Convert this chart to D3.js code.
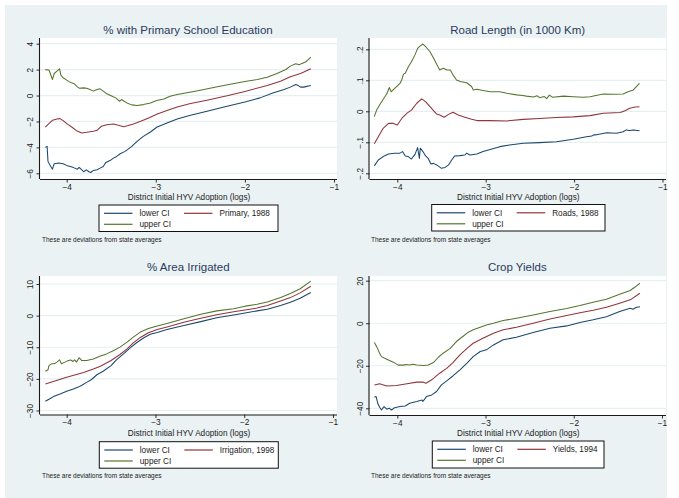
<!DOCTYPE html>
<html>
<head>
<meta charset="utf-8">
<script src="https://cdn.jsdelivr.net/npm/d3@7"></script>
<style>
  body { margin: 0; background: #ffffff; }
  svg { display: block; }
  text { font-family: "Liberation Sans", Arial, Helvetica, sans-serif; }
</style>
</head>
<body>
<svg id="chart" width="679" height="498"></svg>
<script>
// ---- data: local-mean estimates with confidence bands, by district HYV adoption (logs) ----
const xTicks = [-4, -3, -2, -1];
const bandNames = ["lower CI", "upper CI"];

// % with primary school education, 1988
const primaryUpper = [[-4.24,2.0],[-4.2,1.97],[-4.19,1.82],[-4.16,1.24],[-4.14,1.7],[-4.11,1.88],[-4.08,2.06],[-4.064,1.55],[-4.04,1.37],[-4.0,1.19],[-3.95,0.98],[-3.92,0.93],[-3.88,0.67],[-3.86,0.57],[-3.81,0.59],[-3.775,0.57],[-3.74,0.46],[-3.70,0.34],[-3.66,0.46],[-3.625,0.52],[-3.59,0.34],[-3.55,0.13],[-3.49,-0.05],[-3.45,-0.18],[-3.41,-0.44],[-3.38,-0.31],[-3.355,-0.44],[-3.325,-0.57],[-3.27,-0.72],[-3.21,-0.77],[-3.14,-0.70],[-3.06,-0.57],[-2.99,-0.39],[-2.91,-0.26],[-2.84,-0.05],[-2.76,0.08],[-2.65,0.21],[-2.5,0.41],[-2.31,0.67],[-2.12,0.93],[-2.0,1.08],[-1.86,1.24],[-1.75,1.42],[-1.64,1.70],[-1.54,2.01],[-1.49,2.27],[-1.43,2.45],[-1.39,2.37],[-1.36,2.48],[-1.32,2.58],[-1.26,2.97]];
const primaryEst = [[-4.24,-2.43],[-4.2,-2.17],[-4.16,-1.91],[-4.11,-1.81],[-4.075,-1.78],[-4.04,-1.94],[-4.0,-2.17],[-3.94,-2.45],[-3.89,-2.71],[-3.83,-2.89],[-3.775,-2.84],[-3.7,-2.76],[-3.66,-2.68],[-3.61,-2.37],[-3.55,-2.25],[-3.475,-2.19],[-3.42,-2.30],[-3.36,-2.40],[-3.31,-2.32],[-3.25,-2.19],[-3.17,-1.99],[-3.08,-1.73],[-2.99,-1.45],[-2.875,-1.16],[-2.76,-0.88],[-2.61,-0.62],[-2.425,-0.36],[-2.2,-0.02],[-2.0,0.32],[-1.75,0.77],[-1.6,1.11],[-1.49,1.45],[-1.375,1.70],[-1.26,2.06]];
const primaryLower = [[-4.24,-4.0],[-4.22,-3.92],[-4.21,-5.08],[-4.19,-5.34],[-4.16,-5.68],[-4.14,-5.26],[-4.09,-5.21],[-4.04,-5.26],[-4.0,-5.39],[-3.94,-5.52],[-3.91,-5.6],[-3.88,-5.68],[-3.86,-5.55],[-3.83,-5.73],[-3.81,-5.88],[-3.78,-5.73],[-3.75,-5.88],[-3.73,-5.94],[-3.7,-5.78],[-3.66,-5.73],[-3.625,-5.60],[-3.59,-5.47],[-3.56,-5.16],[-3.51,-5.0],[-3.475,-4.83],[-3.44,-4.7],[-3.4,-4.49],[-3.345,-4.31],[-3.31,-4.13],[-3.27,-3.92],[-3.21,-3.54],[-3.14,-3.15],[-3.06,-2.81],[-2.99,-2.45],[-2.875,-2.12],[-2.76,-1.81],[-2.61,-1.52],[-2.425,-1.21],[-2.2,-0.82],[-2.0,-0.5],[-1.83,-0.18],[-1.68,0.21],[-1.56,0.46],[-1.49,0.65],[-1.43,0.85],[-1.40,0.77],[-1.375,0.65],[-1.34,0.65],[-1.26,0.77]];

// road length (in 1000 km), 1988
const roadsUpper = [[-4.26,-0.017],[-4.234,0.004],[-4.20,0.020],[-4.16,0.039],[-4.12,0.056],[-4.09,0.077],[-4.07,0.063],[-4.03,0.074],[-3.97,0.090],[-3.95,0.101],[-3.93,0.120],[-3.91,0.123],[-3.875,0.144],[-3.84,0.160],[-3.80,0.182],[-3.77,0.203],[-3.74,0.211],[-3.71,0.217],[-3.68,0.209],[-3.63,0.192],[-3.58,0.166],[-3.55,0.149],[-3.52,0.133],[-3.48,0.139],[-3.44,0.133],[-3.40,0.133],[-3.375,0.120],[-3.33,0.101],[-3.29,0.096],[-3.215,0.092],[-3.16,0.080],[-3.14,0.069],[-3.10,0.071],[-3.03,0.067],[-2.95,0.063],[-2.84,0.063],[-2.76,0.058],[-2.65,0.053],[-2.58,0.051],[-2.54,0.049],[-2.46,0.046],[-2.42,0.050],[-2.39,0.044],[-2.34,0.048],[-2.31,0.041],[-2.28,0.052],[-2.24,0.045],[-2.12,0.049],[-2.01,0.047],[-1.90,0.045],[-1.82,0.047],[-1.67,0.056],[-1.56,0.055],[-1.445,0.056],[-1.39,0.063],[-1.33,0.069],[-1.26,0.090]];
const roadsEst = [[-4.26,-0.105],[-4.215,-0.082],[-4.16,-0.055],[-4.10,-0.039],[-4.045,-0.039],[-4.0,-0.044],[-3.95,-0.023],[-3.89,-0.006],[-3.84,0.004],[-3.78,0.026],[-3.725,0.040],[-3.68,0.031],[-3.63,0.015],[-3.555,-0.009],[-3.52,-0.012],[-3.47,-0.019],[-3.42,-0.010],[-3.37,-0.003],[-3.31,-0.012],[-3.235,-0.019],[-3.16,-0.026],[-3.10,-0.030],[-2.95,-0.030],[-2.76,-0.031],[-2.575,-0.026],[-2.39,-0.023],[-2.20,-0.020],[-2.01,-0.018],[-1.82,-0.014],[-1.67,-0.006],[-1.48,-0.004],[-1.43,0.001],[-1.37,0.010],[-1.31,0.014],[-1.26,0.015]];
const roadsLower = [[-4.26,-0.176],[-4.215,-0.157],[-4.16,-0.146],[-4.10,-0.138],[-4.03,-0.135],[-3.97,-0.135],[-3.94,-0.130],[-3.91,-0.144],[-3.875,-0.146],[-3.84,-0.154],[-3.80,-0.139],[-3.77,-0.117],[-3.75,-0.152],[-3.74,-0.119],[-3.71,-0.130],[-3.68,-0.144],[-3.65,-0.152],[-3.62,-0.170],[-3.59,-0.168],[-3.555,-0.173],[-3.50,-0.184],[-3.46,-0.181],[-3.42,-0.173],[-3.385,-0.157],[-3.35,-0.144],[-3.29,-0.143],[-3.235,-0.141],[-3.215,-0.135],[-3.18,-0.141],[-3.10,-0.138],[-3.03,-0.130],[-2.95,-0.123],[-2.84,-0.114],[-2.73,-0.109],[-2.575,-0.103],[-2.39,-0.101],[-2.20,-0.098],[-2.01,-0.090],[-1.86,-0.082],[-1.80,-0.080],[-1.78,-0.076],[-1.75,-0.076],[-1.63,-0.069],[-1.52,-0.071],[-1.445,-0.066],[-1.41,-0.060],[-1.37,-0.062],[-1.33,-0.060],[-1.26,-0.063]];

// % area irrigated, 1998
const irrigUpper = [[-4.24,-17.6],[-4.21,-17.1],[-4.20,-15.8],[-4.17,-15.2],[-4.14,-15.2],[-4.11,-14.7],[-4.08,-14.0],[-4.06,-15.2],[-4.02,-14.7],[-3.98,-14.2],[-3.955,-14.0],[-3.93,-14.5],[-3.91,-14.0],[-3.89,-14.7],[-3.86,-13.3],[-3.83,-14.2],[-3.775,-14.2],[-3.70,-13.7],[-3.62,-12.8],[-3.55,-12.1],[-3.47,-11.0],[-3.40,-9.95],[-3.32,-8.4],[-3.25,-6.8],[-3.17,-5.2],[-3.08,-4.1],[-2.98,-3.3],[-2.87,-2.5],[-2.68,-1.0],[-2.49,0.4],[-2.31,1.5],[-2.12,2.2],[-1.99,3.0],[-1.855,3.6],[-1.74,4.3],[-1.59,5.7],[-1.48,7.0],[-1.37,8.5],[-1.25,10.9]];
const irrigEst = [[-4.24,-21.6],[-4.0,-19.5],[-3.81,-18.0],[-3.70,-16.9],[-3.62,-16.0],[-3.50,-14.2],[-3.40,-12.3],[-3.32,-10.5],[-3.25,-8.6],[-3.17,-6.9],[-3.08,-5.4],[-2.98,-4.4],[-2.87,-3.6],[-2.68,-2.1],[-2.49,-0.8],[-2.31,0.3],[-2.12,1.2],[-1.99,1.8],[-1.855,2.4],[-1.74,3.2],[-1.59,4.6],[-1.48,5.7],[-1.37,7.2],[-1.25,9.3]];
const irrigLower = [[-4.24,-27.1],[-4.19,-26.3],[-4.15,-25.6],[-4.075,-24.8],[-4.0,-23.9],[-3.925,-23.2],[-3.87,-22.6],[-3.83,-22.0],[-3.775,-21.1],[-3.72,-20.2],[-3.66,-18.7],[-3.59,-17.6],[-3.50,-15.8],[-3.44,-14.0],[-3.36,-12.1],[-3.285,-10.2],[-3.21,-8.5],[-3.13,-7.0],[-3.06,-5.9],[-2.98,-5.3],[-2.87,-4.4],[-2.68,-3.1],[-2.49,-1.9],[-2.31,-0.7],[-2.12,0.2],[-1.99,0.8],[-1.855,1.5],[-1.74,2.0],[-1.59,3.2],[-1.48,4.2],[-1.37,5.5],[-1.25,7.3]];

// crop yields, 1994
const yieldsUpper = [[-4.26,-9.1],[-4.234,-11.0],[-4.20,-14.1],[-4.18,-15.7],[-4.12,-16.9],[-4.045,-18.3],[-3.99,-19.7],[-3.93,-19.7],[-3.90,-19.4],[-3.86,-19.6],[-3.82,-19.3],[-3.78,-19.6],[-3.705,-19.9],[-3.65,-19.6],[-3.59,-18.5],[-3.535,-16.0],[-3.48,-14.1],[-3.40,-11.8],[-3.33,-8.6],[-3.25,-6.0],[-3.195,-4.2],[-3.14,-3.1],[-3.06,-1.9],[-2.99,-0.8],[-2.91,0.0],[-2.80,1.25],[-2.65,2.35],[-2.46,3.9],[-2.27,5.5],[-2.08,6.9],[-1.93,8.3],[-1.78,9.9],[-1.63,11.3],[-1.48,13.6],[-1.36,15.4],[-1.31,16.9],[-1.25,18.8]];
const yieldsEst = [[-4.26,-29.0],[-4.20,-28.5],[-4.12,-29.5],[-4.01,-29.3],[-3.89,-28.5],[-3.78,-27.7],[-3.705,-27.7],[-3.675,-28.2],[-3.61,-26.6],[-3.52,-23.5],[-3.44,-21.2],[-3.37,-18.5],[-3.29,-14.9],[-3.21,-11.8],[-3.14,-9.4],[-3.03,-7.1],[-2.91,-4.7],[-2.80,-3.1],[-2.65,-1.9],[-2.46,0.0],[-2.27,2.0],[-2.08,3.6],[-1.93,4.9],[-1.78,6.1],[-1.63,7.5],[-1.48,9.4],[-1.36,11.0],[-1.25,14.1]];
const yieldsLower = [[-4.26,-34.8],[-4.24,-34.5],[-4.22,-37.9],[-4.20,-39.5],[-4.18,-40.8],[-4.15,-39.2],[-4.12,-40.4],[-4.09,-40.0],[-4.065,-40.8],[-4.03,-39.7],[-3.97,-39.2],[-3.91,-38.9],[-3.86,-37.6],[-3.78,-36.8],[-3.72,-36.1],[-3.71,-36.8],[-3.67,-34.5],[-3.61,-33.7],[-3.555,-32.1],[-3.50,-29.0],[-3.44,-27.1],[-3.37,-24.8],[-3.29,-21.9],[-3.21,-18.8],[-3.14,-15.7],[-3.06,-13.3],[-2.99,-12.5],[-2.91,-10.2],[-2.80,-7.8],[-2.65,-6.6],[-2.46,-4.4],[-2.27,-2.35],[-2.08,-1.25],[-1.93,0.3],[-1.78,1.6],[-1.63,3.1],[-1.48,5.5],[-1.36,7.0],[-1.33,6.6],[-1.29,7.5],[-1.25,7.8]];

const primaryTicks = [4, 2, 0, -2, -4, -6];
const roadsTicks = [0.2, 0.1, 0, -0.1, -0.2];
const irrigTicks = [10, 0, -10, -20, -30];
const yieldsTicks = [20, 0, -20, -40];

// ---- styling ----
const bgColor = "#eaf2f3";
const gridColor = "#e6eff1";
const titleColor = "#2a3a5e";
const lineColors = { lower: "#1a476f", est: "#90353b", upper: "#55752f" };

// ---- panel frames (pixel layout of each sub-graph) ----
const panels = [
  { title: "% with Primary School Education", estLabel: "Primary, 1988",
    lower: primaryLower, est: primaryEst, upper: primaryUpper, yTicks: primaryTicks,
    plot: { l: 40, r: 337, t: 38, b: 179 }, xPx: [66.7, 334], yPx: [43.7, 173.3],
    titleX: 188, titleY: 34, xTitleY: 200, legend: { l: 99, t: 205, w: 179, h: 26.5 }, noteX: 42, noteY: 241.5 },
  { title: "Road Length (in 1000 Km)", estLabel: "Roads, 1988",
    lower: roadsLower, est: roadsEst, upper: roadsUpper, yTicks: roadsTicks,
    plot: { l: 369.5, r: 666, t: 38, b: 179 }, xPx: [397.3, 662.5], yPx: [49.3, 173.3],
    titleX: 517.7, titleY: 34, xTitleY: 200, legend: { l: 431.7, t: 204.5, w: 173.3, h: 26.5 }, noteX: 371, noteY: 241.5 },
  { title: "% Area Irrigated", estLabel: "Irrigation, 1998",
    lower: irrigLower, est: irrigEst, upper: irrigUpper, yTicks: irrigTicks,
    plot: { l: 40, r: 337, t: 276, b: 414.5 }, xPx: [66.7, 333], yPx: [284, 410.5],
    titleX: 188.3, titleY: 271, xTitleY: 435.5, legend: { l: 99.3, t: 441.7, w: 179, h: 26.5 }, noteX: 42, noteY: 478 },
  { title: "Crop Yields", estLabel: "Yields, 1994",
    lower: yieldsLower, est: yieldsEst, upper: yieldsUpper, yTicks: yieldsTicks,
    plot: { l: 369.5, r: 666, t: 276, b: 415 }, xPx: [397.3, 662], yPx: [280.7, 408.3],
    titleX: 517.3, titleY: 271, xTitleY: 435.5, legend: { l: 432.3, t: 441, w: 171.7, h: 27 }, noteX: 371, noteY: 478 }
];

const svg = d3.select("#chart");
svg.append("rect").attr("x", 5).attr("y", 5).attr("width", 662).attr("height", 493).attr("fill", bgColor);

const fmtTick = v => (v === 0 ? "0" : String(v).replace("0.", ".").replace("-", "\u2212"));

panels.forEach(p => {
  const g = svg.append("g");
  const x = d3.scaleLinear().domain([xTicks[0], xTicks[xTicks.length - 1]]).range(p.xPx);
  const yMax = d3.max(p.yTicks), yMin = d3.min(p.yTicks);
  const y = d3.scaleLinear().domain([yMin, yMax]).range([p.yPx[1], p.yPx[0]]);

  // plot region
  g.append("rect").attr("x", p.plot.l).attr("y", p.plot.t)
    .attr("width", p.plot.r - p.plot.l).attr("height", p.plot.b - p.plot.t).attr("fill", "#ffffff");

  // horizontal grid
  g.selectAll(".grid").data(p.yTicks).join("line")
    .attr("x1", p.plot.l).attr("x2", p.plot.r)
    .attr("y1", d => y(d)).attr("y2", d => y(d))
    .attr("stroke", gridColor).attr("stroke-width", 1.2);

  // y axis
  const yAxis = d3.axisLeft(y).tickValues(p.yTicks).tickSize(3.5).tickPadding(2).tickFormat(fmtTick);
  const ya = g.append("g").attr("transform", `translate(${p.plot.l},0)`).call(yAxis);
  ya.select(".domain").attr("d", `M-0.5,${p.plot.t}V${p.plot.b}`).attr("stroke", "#1a1a1a").attr("stroke-width", 1.1);
  ya.selectAll(".tick line").attr("stroke", "#1a1a1a").attr("stroke-width", 0.9);
  ya.selectAll(".tick text")
    .attr("x", null).attr("dy", null)
    .attr("text-anchor", "middle")
    .attr("transform", "translate(-7,0) rotate(-90)")
    .attr("font-size", 8.3).attr("fill", "#1a1a1a")
    .attr("font-family", "Liberation Sans, Arial, sans-serif");

  // x axis
  const xAxis = d3.axisBottom(x).tickValues(xTicks).tickSize(3.5).tickPadding(1.5).tickFormat(fmtTick);
  const xa = g.append("g").attr("transform", `translate(0,${p.plot.b})`).call(xAxis);
  xa.select(".domain").attr("d", `M${p.plot.l},0.5H${p.plot.r}`).attr("stroke", "#1a1a1a").attr("stroke-width", 1.1);
  xa.selectAll(".tick line").attr("stroke", "#1a1a1a").attr("stroke-width", 0.9);
  xa.selectAll(".tick text").attr("font-size", 8.3).attr("fill", "#1a1a1a")
    .attr("font-family", "Liberation Sans, Arial, sans-serif");

  // series
  const line = d3.line().x(d => x(d[0])).y(d => y(d[1]));
  [["lower", p.lower], ["est", p.est], ["upper", p.upper]].forEach(([k, data]) => {
    g.append("path").datum(data).attr("d", line)
      .attr("fill", "none").attr("stroke", lineColors[k]).attr("stroke-width", 1.05)
      .attr("stroke-linejoin", "round");
  });

  // titles
  g.append("text").attr("x", p.titleX).attr("y", p.titleY).attr("text-anchor", "middle")
    .attr("font-size", 11.5).attr("fill", titleColor).text(p.title);
  g.append("text").attr("x", (p.plot.l + p.plot.r) / 2 + 0.5).attr("y", p.xTitleY).attr("text-anchor", "middle")
    .attr("font-size", 8.2).attr("fill", "#1a1a1a").text("District Initial HYV Adoption (logs)");

  // legend
  const L = p.legend;
  const lg = g.append("g").attr("transform", `translate(${L.l},${L.t})`);
  lg.append("rect").attr("x", 0).attr("y", 0).attr("width", L.w).attr("height", L.h)
    .attr("fill", "#ffffff").attr("stroke", "#111111").attr("stroke-width", 1);
  const items = [
    { label: bandNames[0], color: lineColors.lower, col: 0, row: 0 },
    { label: p.estLabel, color: lineColors.est, col: 1, row: 0 },
    { label: bandNames[1], color: lineColors.upper, col: 0, row: 1 }
  ];
  const colX = [5, 85], rowY = [8.3, 19.3];
  items.forEach(it => {
    const cx = colX[it.col], cy = rowY[it.row];
    lg.append("line").attr("x1", cx).attr("x2", cx + 28.5).attr("y1", cy).attr("y2", cy)
      .attr("stroke", it.color).attr("stroke-width", 1.2);
    lg.append("text").attr("x", cx + 35.5).attr("y", cy + 3).attr("font-size", 8.2)
      .attr("fill", "#1a1a1a").text(it.label);
  });

  g.append("text").attr("x", p.noteX).attr("y", p.noteY).attr("font-size", 6.5)
    .attr("fill", "#1a1a1a").text("These are deviations from state averages");
});
</script>
</body>
</html>
